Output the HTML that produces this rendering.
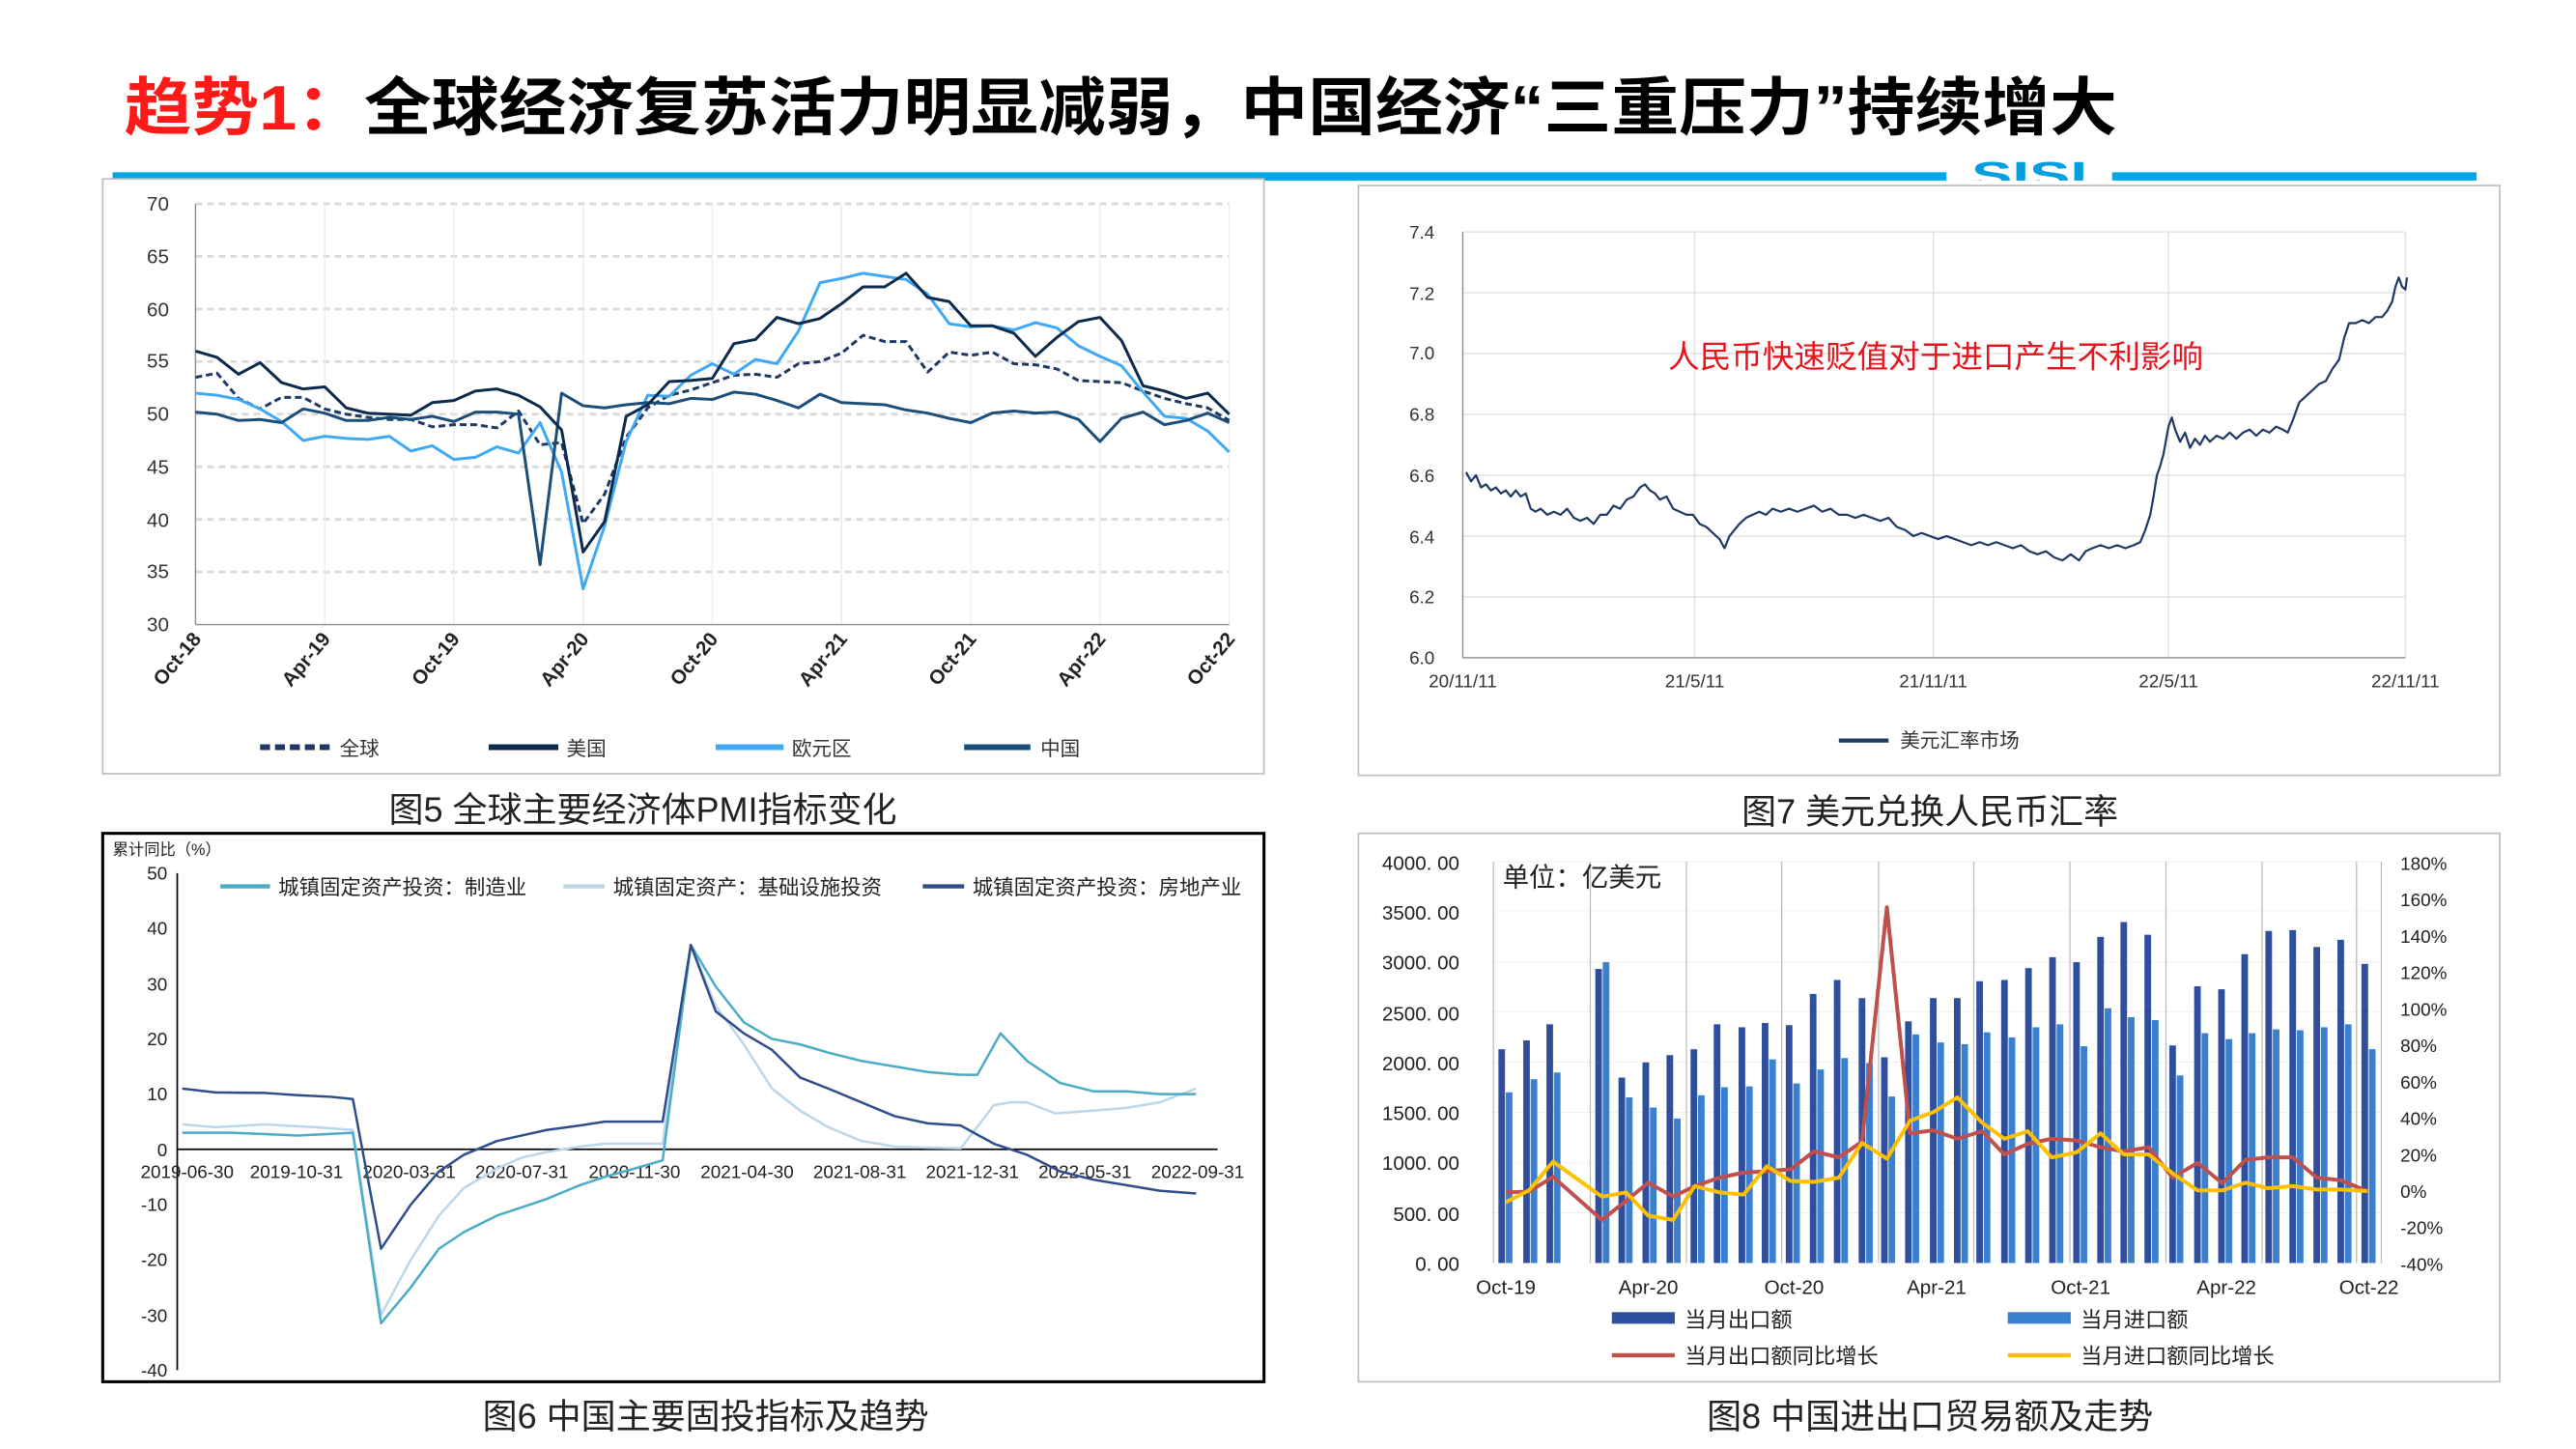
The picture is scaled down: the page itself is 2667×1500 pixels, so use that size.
<!DOCTYPE html>
<html><head><meta charset="utf-8"><style>
html,body{margin:0;padding:0;background:#fff;}
svg{display:block;}
text{font-family:"Liberation Sans","Noto Sans CJK SC",sans-serif;}
.ln{fill:none;vector-effect:non-scaling-stroke;stroke-linejoin:round;}
</style></head><body>
<svg width="2667" height="1500" viewBox="0 0 1555 874.6" preserveAspectRatio="none" xmlns="http://www.w3.org/2000/svg">
<rect width="1555" height="875" fill="#fff"/>
<!-- Title -->
<text x="75" y="78" font-size="38" font-weight="bold" textLength="1203" lengthAdjust="spacingAndGlyphs"><tspan fill="#ff1a1a">趋势1：</tspan><tspan fill="#000">全球经济复苏活力明显减弱，中国经济“三重压力”持续增大</tspan></text>
<rect x="68" y="104" width="1107" height="5" fill="#00a8e8"/>
<rect x="1275" y="104" width="220" height="5" fill="#00a8e8"/>
<text x="1190" y="113" font-size="22" font-weight="bold" fill="#00a0e0" textLength="70" lengthAdjust="spacingAndGlyphs">SISI</text>
<rect x="1170" y="109" width="110" height="4" fill="#fff"/>

<!-- Panel 1 -->
<rect x="62" y="108" width="701" height="359" fill="#fff" stroke="#c0c0c0" stroke-width="1"/>
<g stroke="#d9d9d9" stroke-width="1.6" stroke-dasharray="4,3">
<line x1="118" x2="742" y1="123" y2="123"/><line x1="118" x2="742" y1="154.75" y2="154.75"/><line x1="118" x2="742" y1="186.5" y2="186.5"/><line x1="118" x2="742" y1="218.25" y2="218.25"/><line x1="118" x2="742" y1="250" y2="250"/><line x1="118" x2="742" y1="281.75" y2="281.75"/><line x1="118" x2="742" y1="313.5" y2="313.5"/><line x1="118" x2="742" y1="345.25" y2="345.25"/>
</g>
<g stroke="#ececec" stroke-width="0.8">
<line x1="196" x2="196" y1="123" y2="377"/><line x1="274" x2="274" y1="123" y2="377"/><line x1="352" x2="352" y1="123" y2="377"/><line x1="430" x2="430" y1="123" y2="377"/><line x1="508" x2="508" y1="123" y2="377"/><line x1="586" x2="586" y1="123" y2="377"/><line x1="664" x2="664" y1="123" y2="377"/><line x1="742" x2="742" y1="123" y2="377"/>
</g>
<g stroke="#8c8c8c" stroke-width="0.8"><line x1="118" x2="118" y1="123" y2="377"/><line x1="118" x2="742" y1="377" y2="377"/></g>
<g font-size="12" fill="#333" text-anchor="end">
<text x="102" y="127">70</text><text x="102" y="159">65</text><text x="102" y="191">60</text><text x="102" y="222">55</text><text x="102" y="254">50</text><text x="102" y="286">45</text><text x="102" y="318">40</text><text x="102" y="349">35</text><text x="102" y="381">30</text>
</g>
<g font-size="12" font-weight="bold" fill="#222" text-anchor="end">
<text transform="translate(122,386) rotate(-50)">Oct-18</text><text transform="translate(200,386) rotate(-50)">Apr-19</text><text transform="translate(278,386) rotate(-50)">Oct-19</text><text transform="translate(356,386) rotate(-50)">Apr-20</text><text transform="translate(434,386) rotate(-50)">Oct-20</text><text transform="translate(512,386) rotate(-50)">Apr-21</text><text transform="translate(590,386) rotate(-50)">Oct-21</text><text transform="translate(668,386) rotate(-50)">Apr-22</text><text transform="translate(746,386) rotate(-50)">Oct-22</text>
</g>
<g transform="translate(118,377) scale(13,-6.35) translate(0,-30)">
<polyline class="ln" stroke="#1f3864" stroke-width="3" stroke-dasharray="7,4" points="0,53.5 1,53.9 2,51.5 3,50.5 4,51.6 5,51.6 6,50.5 7,50 8,49.7 9,49.5 10,49.5 11,48.8 12,49 13,49 14,48.7 15,50.3 16,47.1 17,47.3 18,39.6 19,42.4 20,47.8 21,50.6 22,51.8 23,52.3 24,53 25,53.7 26,53.8 27,53.5 28,54.8 29,55 30,55.8 31,57.5 32,56.9 33,56.9 34,54 35,55.9 36,55.6 37,55.9 38,54.8 39,54.7 40,54.3 41,53.2 42,53.1 43,53 44,52.2 45,51.5 46,51 47,50.6 48,49.4"/>
<polyline class="ln" stroke="#3fa9f5" stroke-width="3" points="0,52 1,51.8 2,51.4 3,50.5 4,49.3 5,47.5 6,47.9 7,47.7 8,47.6 9,47.9 10,46.5 11,47 12,45.7 13,45.9 14,46.9 15,46.3 16,49.2 17,44.5 18,33.4 19,39.4 20,47.4 21,51.8 22,51.7 23,53.7 24,54.8 25,53.8 26,55.2 27,54.8 28,57.9 29,62.5 30,62.9 31,63.4 32,63.1 33,62.8 34,61.4 35,58.6 36,58.3 37,58.4 38,58 39,58.7 40,58.2 41,56.5 42,55.5 43,54.6 44,52.1 45,49.8 46,49.6 47,48.4 48,46.4"/>
<polyline class="ln" stroke="#1b4f7a" stroke-width="3" points="0,50.2 1,50 2,49.4 3,49.5 4,49.2 5,50.5 6,50.1 7,49.4 8,49.4 9,49.7 10,49.5 11,49.8 12,49.3 13,50.2 14,50.2 15,50 16,35.7 17,52 18,50.8 19,50.6 20,50.9 21,51.1 22,51 23,51.5 24,51.4 25,52.1 26,51.9 27,51.3 28,50.6 29,51.9 30,51.1 31,51 32,50.9 33,50.4 34,50.1 35,49.6 36,49.2 37,50.1 38,50.3 39,50.1 40,50.2 41,49.5 42,47.4 43,49.6 44,50.2 45,49 46,49.4 47,50.1 48,49.2"/>
<polyline class="ln" stroke="#0c2a4c" stroke-width="3" points="0,56 1,55.4 2,53.8 3,54.9 4,53 5,52.4 6,52.6 7,50.6 8,50.1 9,50 10,49.9 11,51.1 12,51.3 13,52.2 14,52.4 15,51.8 16,50.7 17,48.5 18,36.9 19,39.8 20,49.8 21,50.9 22,53.1 23,53.2 24,53.4 25,56.7 26,57.1 27,59.2 28,58.6 29,59.1 30,60.5 31,62.1 32,62.1 33,63.4 34,61.1 35,60.7 36,58.4 37,58.4 38,57.7 39,55.5 40,57.3 41,58.8 42,59.2 43,57 44,52.7 45,52.2 46,51.5 47,52 48,50"/>
</g>
<g font-size="12" fill="#333">
<line x1="157" x2="200" y1="451" y2="451" stroke="#1f3864" stroke-width="3.5" stroke-dasharray="6,3"/><text x="205" y="456">全球</text>
<line x1="295" x2="337" y1="451" y2="451" stroke="#0c2a4c" stroke-width="3.5"/><text x="342" y="456">美国</text>
<line x1="432" x2="473" y1="451" y2="451" stroke="#3fa9f5" stroke-width="3.5"/><text x="478" y="456">欧元区</text>
<line x1="582" x2="622" y1="451" y2="451" stroke="#1b4f7a" stroke-width="3.5"/><text x="628" y="456">中国</text>
</g>
<text x="388" y="496" font-size="21" fill="#222" text-anchor="middle">图5 全球主要经济体PMI指标变化</text>

<!-- Panel 2 -->
<rect x="820" y="112" width="689" height="356" fill="#fff" stroke="#c0c0c0" stroke-width="1"/>
<g stroke="#e0e0e0" stroke-width="0.8">
<line x1="883" x2="1452" y1="140" y2="140"/><line x1="883" x2="1452" y1="176.7" y2="176.7"/><line x1="883" x2="1452" y1="213.4" y2="213.4"/><line x1="883" x2="1452" y1="250.1" y2="250.1"/><line x1="883" x2="1452" y1="286.8" y2="286.8"/><line x1="883" x2="1452" y1="323.6" y2="323.6"/><line x1="883" x2="1452" y1="360.3" y2="360.3"/>
<line x1="1023" x2="1023" y1="140" y2="397"/><line x1="1167" x2="1167" y1="140" y2="397"/><line x1="1309" x2="1309" y1="140" y2="397"/><line x1="1452" x2="1452" y1="140" y2="397"/>
</g>
<g stroke="#888" stroke-width="0.8"><line x1="883" x2="883" y1="140" y2="397"/><line x1="883" x2="1452" y1="397" y2="397"/></g>
<g font-size="11" fill="#333" text-anchor="end">
<text x="866" y="144">7.4</text><text x="866" y="181">7.2</text><text x="866" y="217">7.0</text><text x="866" y="254">6.8</text><text x="866" y="291">6.6</text><text x="866" y="328">6.4</text><text x="866" y="364">6.2</text><text x="866" y="401">6.0</text>
</g>
<g font-size="11" fill="#333" text-anchor="middle">
<text x="883" y="415">20/11/11</text><text x="1023" y="415">21/5/11</text><text x="1167" y="415">21/11/11</text><text x="1309" y="415">22/5/11</text><text x="1452" y="415">22/11/11</text>
</g>
<g transform="translate(0,397) scale(1,-183.6) translate(0,-6)">
<polyline class="ln" stroke="#1f3864" stroke-width="2.2" points="885,6.61 888,6.58 891,6.6 894,6.56 897,6.57 900,6.55 903,6.56 906,6.54 909,6.55 912,6.53 915,6.55 918,6.53 921,6.54 924,6.49 927,6.48 930,6.49 934,6.47 938,6.48 942,6.47 946,6.49 950,6.46 954,6.45 958,6.46 962,6.44 966,6.47 970,6.47 974,6.5 978,6.49 982,6.52 986,6.53 990,6.56 993,6.57 996,6.55 999,6.54 1002,6.52 1006,6.53 1010,6.49 1014,6.48 1018,6.47 1022,6.47 1026,6.44 1030,6.43 1034,6.41 1038,6.39 1041,6.36 1044,6.4 1047,6.42 1050,6.44 1054,6.46 1058,6.47 1062,6.48 1066,6.47 1070,6.49 1075,6.48 1080,6.49 1085,6.48 1090,6.49 1095,6.5 1100,6.48 1105,6.49 1110,6.47 1115,6.47 1120,6.46 1125,6.47 1130,6.46 1135,6.45 1140,6.46 1145,6.43 1150,6.42 1155,6.4 1160,6.41 1165,6.4 1170,6.39 1175,6.4 1180,6.39 1185,6.38 1190,6.37 1195,6.38 1200,6.37 1205,6.38 1210,6.37 1215,6.36 1220,6.37 1225,6.35 1230,6.34 1235,6.35 1240,6.33 1245,6.32 1250,6.34 1255,6.32 1259,6.35 1263,6.36 1268,6.37 1273,6.36 1278,6.37 1283,6.36 1288,6.37 1292,6.38 1295,6.42 1298,6.47 1300,6.53 1302,6.6 1304,6.63 1306,6.67 1309,6.76 1311,6.79 1313,6.75 1316,6.71 1319,6.74 1322,6.69 1325,6.72 1328,6.7 1331,6.73 1334,6.71 1338,6.73 1342,6.72 1346,6.74 1350,6.72 1354,6.74 1358,6.75 1362,6.73 1366,6.75 1370,6.74 1374,6.76 1378,6.75 1381,6.74 1384,6.78 1388,6.84 1392,6.86 1396,6.88 1400,6.9 1404,6.91 1408,6.95 1412,6.98 1415,7.05 1418,7.1 1422,7.1 1426,7.11 1430,7.1 1434,7.12 1438,7.12 1441,7.14 1444,7.17 1446,7.22 1448,7.25 1450,7.22 1452,7.21 1453,7.25"/>
</g>
<text x="1007" y="222" font-size="19" fill="#e8141c">人民币快速贬值对于进口产生不利影响</text>
<line x1="1110" x2="1140" y1="447" y2="447" stroke="#1f3864" stroke-width="2.5"/>
<text x="1147" y="451" font-size="12" fill="#333">美元汇率市场</text>
<text x="1165" y="497" font-size="21" fill="#222" text-anchor="middle">图7 美元兑换人民币汇率</text>

<!-- Panel 3 -->
<rect x="62" y="503" width="701" height="331" fill="#fff" stroke="#000" stroke-width="1.8"/>
<text x="68" y="516" font-size="9.5" fill="#222">累计同比（%）</text>
<g stroke="#000" stroke-width="1"><line x1="107" x2="107" y1="527" y2="827"/><line x1="107" x2="735" y1="693.7" y2="693.7"/></g>
<g font-size="11" fill="#222" text-anchor="end">
<text x="101" y="531">50</text><text x="101" y="564">40</text><text x="101" y="598">30</text><text x="101" y="631">20</text><text x="101" y="664">10</text><text x="101" y="698">0</text><text x="101" y="731">-10</text><text x="101" y="764">-20</text><text x="101" y="798">-30</text><text x="101" y="831">-40</text>
</g>
<g font-size="11" fill="#222" text-anchor="middle">
<text x="113" y="711">2019-06-30</text><text x="179" y="711">2019-10-31</text><text x="247" y="711">2020-03-31</text><text x="315" y="711">2020-07-31</text><text x="383" y="711">2020-11-30</text><text x="451" y="711">2021-04-30</text><text x="519" y="711">2021-08-31</text><text x="587" y="711">2021-12-31</text><text x="655" y="711">2022-05-31</text><text x="723" y="711">2022-09-31</text>
</g>
<g transform="translate(0,693.7) scale(1,-3.333)">
<polyline class="ln" stroke="#bcd6ea" stroke-width="2.5" points="110,4.5 130,4 160,4.5 190,4 213,3.5 230,-30 248,-20 265,-12 280,-7 300,-3.5 315,-1.5 330,-0.5 350,0.5 365,1 383,1 400,1 417,37 432,26 449,19 466,11 483,7 500,4 520,1.5 540,0.5 560,0.3 580,0.2 600,8 610,8.5 620,8.5 637,6.5 660,7 680,7.5 700,8.5 722,11"/>
<polyline class="ln" stroke="#4bacc6" stroke-width="2.5" points="110,3 140,3 180,2.5 213,3 230,-31.5 248,-25 265,-18 280,-15 300,-12 315,-10.5 330,-9 350,-6.5 365,-5 383,-3.5 400,-2 417,37 432,29.5 449,23 466,20 483,19 500,17.5 520,16 540,15 560,14 580,13.5 590,13.5 604,21 620,16 640,12 660,10.5 680,10.5 700,10 722,10"/>
<polyline class="ln" stroke="#2f4d8a" stroke-width="2.5" points="110,11 130,10.3 160,10.2 180,9.8 200,9.5 213,9.1 230,-18 248,-10 265,-4 280,-1 300,1.5 315,2.5 330,3.5 350,4.3 365,5 383,5 400,5 417,37 432,25 449,21 466,18 483,13 500,11 520,8.5 540,6 560,4.7 580,4.3 600,1 620,-1 640,-4 660,-5.5 680,-6.5 700,-7.5 722,-8"/>
</g>
<g font-size="12.5" fill="#222">
<line x1="133" x2="163" y1="535" y2="535" stroke="#4bacc6" stroke-width="2.5"/><text x="168" y="540">城镇固定资产投资：制造业</text>
<line x1="340" x2="365" y1="535" y2="535" stroke="#bcd6ea" stroke-width="2.5"/><text x="370" y="540">城镇固定资产：基础设施投资</text>
<line x1="557" x2="582" y1="535" y2="535" stroke="#2f4d8a" stroke-width="2.5"/><text x="587" y="540">城镇固定资产投资：房地产业</text>
</g>
<text x="426" y="862" font-size="21" fill="#222" text-anchor="middle">图6 中国主要固投指标及趋势</text>

<!-- Panel 4 -->
<rect x="820" y="503" width="689" height="331" fill="#fff" stroke="#c0c0c0" stroke-width="1"/>
<g transform="translate(820,503) scale(0.5,0.255) translate(-72,-85)">
<g stroke="#e3e3e3" stroke-width="1" class="ln">
<line x1="235" x2="1307" y1="152" y2="152"/><line x1="235" x2="1307" y1="270.75" y2="270.75"/><line x1="235" x2="1307" y1="389.5" y2="389.5"/><line x1="235" x2="1307" y1="508.25" y2="508.25"/><line x1="235" x2="1307" y1="627" y2="627"/><line x1="235" x2="1307" y1="745.75" y2="745.75"/><line x1="235" x2="1307" y1="864.5" y2="864.5"/><line x1="235" x2="1307" y1="983.25" y2="983.25"/>
</g>
<g stroke="#bdbdbd" stroke-width="1.5" class="ln">
<line x1="235" x2="235" y1="152" y2="1102"/><line x1="352" x2="352" y1="152" y2="1102"/><line x1="468" x2="468" y1="152" y2="1102"/><line x1="583" x2="583" y1="152" y2="1102"/><line x1="700" x2="700" y1="152" y2="1102"/><line x1="815" x2="815" y1="152" y2="1102"/><line x1="931" x2="931" y1="152" y2="1102"/><line x1="1047" x2="1047" y1="152" y2="1102"/><line x1="1163" x2="1163" y1="152" y2="1102"/><line x1="1277" x2="1277" y1="152" y2="1102"/><line x1="1307" x2="1307" y1="152" y2="1102"/>
</g>
<g fill="#2e4f9e" transform="translate(-1,0)">
<rect x="242" y="596" width="8" height="506"/><rect x="272" y="575" width="8" height="527"/><rect x="300" y="537" width="8" height="565"/><rect x="359" y="406" width="8" height="696"/><rect x="387" y="663" width="8" height="439"/><rect x="416" y="627" width="8" height="475"/><rect x="445" y="610" width="8" height="492"/><rect x="474" y="596" width="8" height="506"/><rect x="502" y="537" width="8" height="565"/><rect x="532" y="544" width="8" height="558"/><rect x="560" y="534" width="8" height="568"/><rect x="589" y="539" width="8" height="563"/><rect x="618" y="465" width="8" height="637"/><rect x="647" y="432" width="8" height="670"/><rect x="677" y="475" width="8" height="627"/><rect x="704" y="615" width="8" height="487"/><rect x="733" y="530" width="8" height="572"/><rect x="763" y="475" width="8" height="627"/><rect x="792" y="475" width="8" height="627"/><rect x="819" y="435" width="8" height="667"/><rect x="849" y="432" width="8" height="670"/><rect x="878" y="404" width="8" height="698"/><rect x="907" y="378" width="8" height="724"/><rect x="936" y="390" width="8" height="712"/><rect x="965" y="330" width="8" height="772"/><rect x="993" y="295" width="8" height="807"/><rect x="1022" y="325" width="8" height="777"/><rect x="1052" y="587" width="8" height="515"/><rect x="1082" y="447" width="8" height="655"/><rect x="1111" y="454" width="8" height="648"/><rect x="1139" y="371" width="8" height="731"/><rect x="1168" y="316" width="8" height="786"/><rect x="1197" y="314" width="8" height="788"/><rect x="1226" y="354" width="8" height="748"/><rect x="1255" y="337" width="8" height="765"/><rect x="1284" y="394" width="8" height="708"/>
</g>
<g fill="#3b80cf">
<rect x="250" y="698" width="8" height="404"/><rect x="280" y="667" width="8" height="435"/><rect x="308" y="651" width="8" height="451"/><rect x="367" y="390" width="8" height="712"/><rect x="395" y="710" width="8" height="392"/><rect x="424" y="734" width="8" height="368"/><rect x="453" y="760" width="8" height="342"/><rect x="482" y="705" width="8" height="397"/><rect x="510" y="686" width="8" height="416"/><rect x="540" y="684" width="8" height="418"/><rect x="568" y="620" width="8" height="482"/><rect x="597" y="677" width="8" height="425"/><rect x="626" y="644" width="8" height="458"/><rect x="655" y="617" width="8" height="485"/><rect x="685" y="629" width="8" height="473"/><rect x="712" y="708" width="8" height="394"/><rect x="741" y="561" width="8" height="541"/><rect x="771" y="580" width="8" height="522"/><rect x="800" y="584" width="8" height="518"/><rect x="827" y="556" width="8" height="546"/><rect x="857" y="568" width="8" height="534"/><rect x="886" y="544" width="8" height="558"/><rect x="915" y="537" width="8" height="565"/><rect x="944" y="589" width="8" height="513"/><rect x="973" y="499" width="8" height="603"/><rect x="1001" y="520" width="8" height="582"/><rect x="1030" y="527" width="8" height="575"/><rect x="1060" y="658" width="8" height="444"/><rect x="1090" y="558" width="8" height="544"/><rect x="1119" y="572" width="8" height="530"/><rect x="1147" y="558" width="8" height="544"/><rect x="1176" y="549" width="8" height="553"/><rect x="1205" y="551" width="8" height="551"/><rect x="1234" y="544" width="8" height="558"/><rect x="1263" y="537" width="8" height="565"/><rect x="1292" y="596" width="8" height="506"/>
</g>
<polyline class="ln" stroke="#c0504d" stroke-width="4" points="250,935 278,933 307,898 366,1000 395,955 422,912 452,945 478,920 508,900 537,888 565,885 594,880 622,838 652,852 680,815 710,260 738,795 766,788 795,808 825,790 852,845 880,820 909,808 939,812 968,828 996,838 1026,828 1055,900 1085,865 1115,913 1143,858 1170,852 1200,852 1229,900 1258,906 1290,932"/>
<polyline class="ln" stroke="#ffc000" stroke-width="4" points="250,958 278,930 307,862 366,945 395,935 422,990 452,1000 478,920 508,935 537,940 565,873 594,908 622,910 652,900 680,818 710,855 738,765 766,745 795,710 825,770 852,808 880,790 909,852 939,840 968,795 996,845 1026,845 1055,890 1085,930 1115,930 1143,912 1170,925 1200,920 1229,928 1258,928 1290,932"/>
</g>
<text x="907" y="535" font-size="16" fill="#222">单位：亿美元</text>
<g font-size="12" fill="#222" text-anchor="end" font-family="Liberation Mono, monospace">
<text x="881" y="525">4000. 00</text><text x="881" y="555">3500. 00</text><text x="881" y="585">3000. 00</text><text x="881" y="616">2500. 00</text><text x="881" y="646">2000. 00</text><text x="881" y="676">1500. 00</text><text x="881" y="706">1000. 00</text><text x="881" y="737">500. 00</text><text x="881" y="767">0. 00</text>
</g>
<g font-size="11" fill="#222">
<text x="1449" y="525">180%</text><text x="1449" y="547">160%</text><text x="1449" y="569">140%</text><text x="1449" y="591">120%</text><text x="1449" y="613">100%</text><text x="1449" y="635">80%</text><text x="1449" y="657">60%</text><text x="1449" y="679">40%</text><text x="1449" y="701">20%</text><text x="1449" y="723">0%</text><text x="1449" y="745">-20%</text><text x="1449" y="767">-40%</text>
</g>
<g font-size="12" fill="#222" text-anchor="middle" font-family="Liberation Mono, monospace">
<text x="909" y="781">Oct-19</text><text x="995" y="781">Apr-20</text><text x="1083" y="781">Oct-20</text><text x="1169" y="781">Apr-21</text><text x="1256" y="781">Oct-21</text><text x="1344" y="781">Apr-22</text><text x="1430" y="781">Oct-22</text>
</g>
<g font-size="13" fill="#222">
<rect x="973" y="792" width="38" height="7" fill="#2e4f9e"/><text x="1017" y="801">当月出口额</text>
<rect x="1212" y="792" width="38" height="7" fill="#3b80cf"/><text x="1256" y="801">当月进口额</text>
<line x1="973" x2="1011" y1="818" y2="818" stroke="#c0504d" stroke-width="2.5"/><text x="1017" y="823">当月出口额同比增长</text>
<line x1="1212" x2="1250" y1="818" y2="818" stroke="#ffc000" stroke-width="2.5"/><text x="1256" y="823">当月进口额同比增长</text>
</g>
<text x="1165" y="862" font-size="21" fill="#222" text-anchor="middle">图8 中国进出口贸易额及走势</text>
</svg>
</body></html>
